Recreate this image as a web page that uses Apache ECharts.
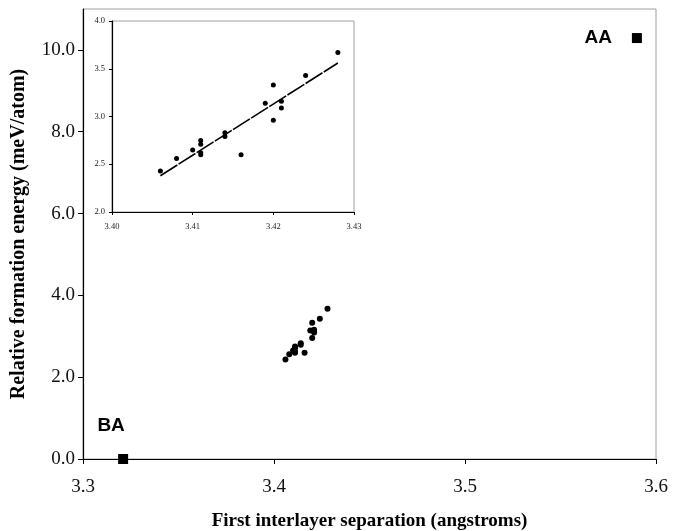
<!DOCTYPE html>
<html>
<head>
<meta charset="utf-8">
<script src="https://cdn.jsdelivr.net/npm/echarts@6/dist/echarts.min.js"></script>
<style>
  html, body { margin: 0; padding: 0; background: #fff; }
  #chart { width: 679px; height: 531px; }
</style>
</head>
<body>
<div id="chart"></div>
<script>
// 层间距 (Å) 与相对形成能 (meV/atom)
const sepX = [3.406, 3.408, 3.410, 3.411, 3.411, 3.411, 3.411, 3.414, 3.414, 3.416,
  3.419, 3.420, 3.420, 3.421, 3.421, 3.424, 3.428];
const energyY = [2.43, 2.56, 2.65, 2.75, 2.71, 2.62, 2.60, 2.83, 2.79, 2.60,
  3.14, 3.33, 2.96, 3.16, 3.09, 3.43, 3.67];

// 堆叠方式 BA / AA
const stackNames = ['BA', 'AA'];
const stackX = [3.321, 3.590];
const stackY = [0.0, 10.29];

// 插图中的拟合直线端点
const trendX = [3.406, 3.428];
const trendY = [2.38, 3.56];

// 刻度
const mainXTicks = [3.3, 3.4, 3.5, 3.6];
const mainYTicks = [0, 2, 4, 6, 8, 10];

const serif = 'Liberation Serif';
const points = sepX.map((x, i) => [x, energyY[i]]);

const chart = echarts.init(document.getElementById('chart'), null, { renderer: 'canvas' });

const option = {
  backgroundColor: '#fff',
  animation: false,
  grid: [
    { left: 83, top: 9, width: 573, height: 450, show: true, borderColor: '#a0a0a0', borderWidth: 1,
      outerBoundsMode: 'none', containLabel: false },
    { left: 112, top: 21, width: 242, height: 191, show: true, borderColor: '#a0a0a0', borderWidth: 1,
      backgroundColor: '#fff', z: 5, outerBoundsMode: 'none', containLabel: false },
  ],
  xAxis: [
    {
      gridIndex: 0, type: 'value', min: 3.3, max: 3.6, interval: 0.1,
      name: 'First interlayer separation (angstroms)',
      nameLocation: 'middle', nameGap: 53,
      nameTextStyle: { fontFamily: serif, fontWeight: 'bold', fontSize: 19, color: '#000' },
      axisLine: { lineStyle: { color: '#000', width: 1.2 } },
      axisTick: { length: 5, lineStyle: { color: '#000' }, customValues: mainXTicks },
      axisLabel: { fontFamily: serif, fontSize: 19, color: '#111', margin: 19,
        customValues: mainXTicks, formatter: v => v.toFixed(1) },
      splitLine: { show: false },
    },
    {
      gridIndex: 1, type: 'value', min: 3.40, max: 3.43, interval: 0.01,
      axisLine: { lineStyle: { color: '#000', width: 1.2 } },
      axisTick: { length: 3, lineStyle: { color: '#000' } },
      axisLabel: { fontFamily: serif, fontSize: 8.5, color: '#222', margin: 10, formatter: v => v.toFixed(2) },
      splitLine: { show: false },
      z: 6,
    },
  ],
  yAxis: [
    {
      gridIndex: 0, type: 'value', min: 0, max: 11, interval: 2,
      name: 'Relative formation energy (meV/atom)',
      nameLocation: 'middle', nameGap: 54,
      nameTextStyle: { fontFamily: serif, fontWeight: 'bold', fontSize: 20, color: '#000' },
      axisLine: { show: true, lineStyle: { color: '#000', width: 1.2 } },
      axisTick: { show: true, length: 5, lineStyle: { color: '#000' }, customValues: mainYTicks },
      axisLabel: { fontFamily: serif, fontSize: 19, color: '#111', margin: 8,
        customValues: mainYTicks, formatter: v => v.toFixed(1) },
      splitLine: { show: false },
    },
    {
      gridIndex: 1, type: 'value', min: 2, max: 4, interval: 0.5,
      axisLine: { show: true, lineStyle: { color: '#000', width: 1.2 } },
      axisTick: { show: true, length: 3, lineStyle: { color: '#000' } },
      axisLabel: { fontFamily: serif, fontSize: 8.5, color: '#222', margin: 7, formatter: v => v.toFixed(1) },
      splitLine: { show: false },
      z: 6,
    },
  ],
  series: [
    // 主图散点
    {
      type: 'scatter', xAxisIndex: 0, yAxisIndex: 0,
      data: points, symbol: 'circle', symbolSize: 6,
      itemStyle: { color: '#000', opacity: 1 },
    },
    // BA / AA 方块
    {
      type: 'scatter', xAxisIndex: 0, yAxisIndex: 0,
      symbol: 'rect', symbolSize: 10,
      itemStyle: { color: '#000', opacity: 1 },
      label: {
        show: true, formatter: p => p.name,
        fontFamily: 'Liberation Sans', fontWeight: 'bold', fontSize: 19,
        color: '#000', textBorderWidth: 0,
      },
      data: stackNames.map((n, i) => ({
        name: n,
        value: [stackX[i], stackY[i]],
        label: i === 0
          ? { position: 'top', offset: [-12, -14] }
          : { position: 'left', distance: 20 },
      })),
      clip: false,
    },
    // 插图散点
    {
      type: 'scatter', xAxisIndex: 1, yAxisIndex: 1,
      data: points, symbol: 'circle', symbolSize: 5,
      itemStyle: { color: '#000', opacity: 1 }, z: 7,
    },
    // 拟合线
    {
      type: 'line', xAxisIndex: 1, yAxisIndex: 1,
      data: trendX.map((x, i) => [x, trendY[i]]),
      symbol: 'none',
      lineStyle: { color: '#000', width: 1.6, type: [20, 1.5] },
      z: 7,
    },
  ],
};

chart.setOption(option);
</script>
</body>
</html>
